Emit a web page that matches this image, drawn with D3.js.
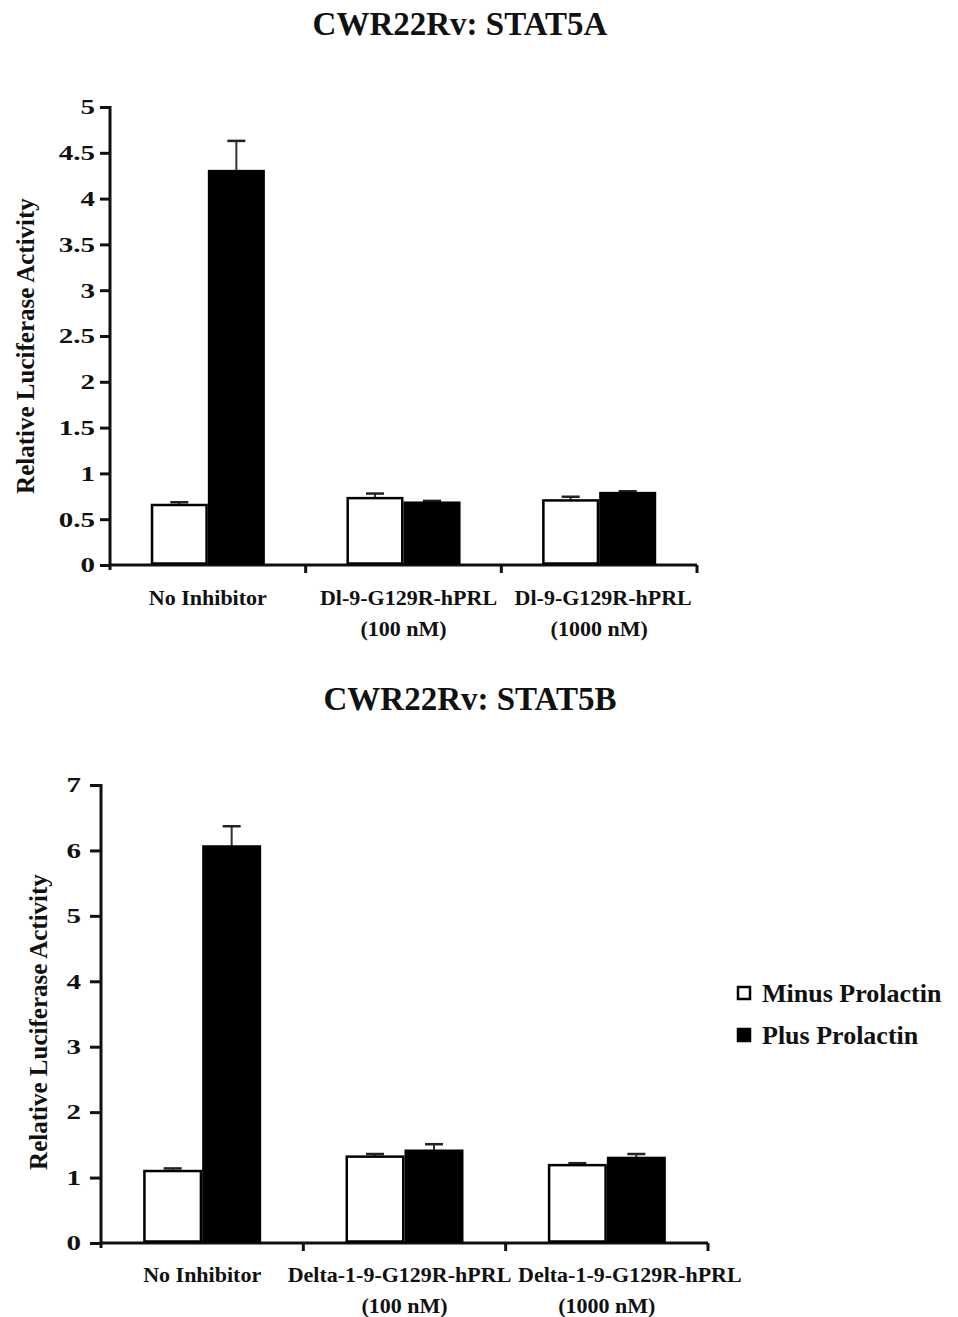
<!DOCTYPE html>
<html>
<head>
<meta charset="utf-8">
<script src="https://cdn.jsdelivr.net/npm/d3@7"></script>
<style>
  html, body { margin: 0; padding: 0; background: #fff; }
  svg { display: block; }
  text { font-family: "Liberation Serif", "Times New Roman", serif; font-weight: bold; fill: #111; }
</style>
</head>
<body>
<svg id="fig" width="958" height="1317"></svg>
<script>
// Luciferase reporter data, CWR22Rv cells
const seriesNames = ["Minus Prolactin", "Plus Prolactin"];

const stat5aCategories = [["No Inhibitor"], ["Dl-9-G129R-hPRL", "(100 nM)"], ["Dl-9-G129R-hPRL", "(1000 nM)"]];
const stat5aMinus = [0.655, 0.73, 0.705];
const stat5aMinusErr = [0.03, 0.05, 0.04];
const stat5aPlus = [4.30, 0.68, 0.785];
const stat5aPlusErr = [0.33, 0.02, 0.02];
const stat5aTicks = [0, 0.5, 1, 1.5, 2, 2.5, 3, 3.5, 4, 4.5, 5];

const stat5bCategories = [["No Inhibitor"], ["Delta-1-9-G129R-hPRL", "(100 nM)"], ["Delta-1-9-G129R-hPRL", "(1000 nM)"]];
const stat5bMinus = [1.10, 1.32, 1.19];
const stat5bMinusErr = [0.04, 0.04, 0.03];
const stat5bPlus = [6.06, 1.41, 1.30];
const stat5bPlusErr = [0.31, 0.10, 0.06];
const stat5bTicks = [0, 1, 2, 3, 4, 5, 6, 7];

const seriesFill = ["#ffffff", "#000000"];
const TICK_SX = 1.45; // tick numerals are set wide

const svg = d3.select("#fig");

function label(g, x, y, str, size, anchor, rotate, sx) {
  return g.append("text")
    .attr("transform", `translate(${x},${y})` + (rotate ? ` rotate(${rotate})` : "") + (sx ? ` scale(${sx},1)` : ""))
    .attr("text-anchor", anchor || "middle")
    .style("font-size", size + "px")
    .text(str);
}

function drawPanel(cfg) {
  const g = svg.append("g");
  const keys = cfg.categories.map((c, i) => "c" + i);
  const x = d3.scaleBand().domain(keys).range([cfg.left, cfg.right]).paddingInner(0).paddingOuter(0);
  const xs = d3.scaleBand().domain(seriesNames).range([0, x.bandwidth()]).paddingInner(0).paddingOuter(0.715);
  const y = d3.scaleLinear().domain([0, cfg.max]).range([cfg.bottom, cfg.top]);

  // title
  label(g, cfg.titleX, cfg.titleY, cfg.title, 33, "middle");

  // y axis
  const yAxis = d3.axisLeft(y)
    .tickValues(cfg.ticks)
    .tickFormat(d => String(d))
    .tickSize(cfg.tickLen)
    .tickSizeOuter(0)
    .tickPadding(cfg.tickPad);
  const ya = g.append("g").attr("transform", `translate(${cfg.left},0)`).call(yAxis);
  ya.select(".domain").attr("stroke", "#111").attr("stroke-width", 3)
    .attr("d", `M0,${cfg.top - 1}V${cfg.bottom + 5}`);
  ya.selectAll(".tick line").attr("stroke", "#111").attr("stroke-width", 3);
  ya.selectAll(".tick text").each(function () {
    const t = d3.select(this);
    const xx = +t.attr("x");
    t.attr("x", null).attr("dy", "0.34em")
      .attr("transform", `translate(${xx},0) scale(${TICK_SX},1)`)
      .style("font-size", "20px")
      .style("font-family", "'Liberation Serif', serif")
      .style("font-weight", "bold")
      .attr("fill", "#111");
  });

  // x axis line with tick marks at group boundaries
  g.append("line")
    .attr("x1", cfg.left).attr("x2", cfg.right)
    .attr("y1", cfg.bottom).attr("y2", cfg.bottom)
    .attr("stroke", "#111").attr("stroke-width", 3);
  g.selectAll("line.xtick").data(keys).join("line").attr("class", "xtick")
    .attr("x1", d => x(d) + x.bandwidth()).attr("x2", d => x(d) + x.bandwidth())
    .attr("y1", cfg.bottom).attr("y2", cfg.bottom + 8)
    .attr("stroke", "#111").attr("stroke-width", 3);

  // one row per bar
  const rows = [];
  keys.forEach((k, i) => {
    rows.push({ k, s: seriesNames[0], v: cfg.minus[i], e: cfg.minusErr[i], fill: seriesFill[0] });
    rows.push({ k, s: seriesNames[1], v: cfg.plus[i], e: cfg.plusErr[i], fill: seriesFill[1] });
  });

  // error bars (upper only), drawn beneath the bars
  const eb = g.selectAll("g.err").data(rows).join("g").attr("class", "err");
  const cxOf = d => x(d.k) + xs(d.s) + xs.bandwidth() / 2;
  eb.append("line")
    .attr("x1", cxOf).attr("x2", cxOf)
    .attr("y1", d => y(d.v)).attr("y2", d => y(d.v + d.e))
    .attr("stroke", "#333").attr("stroke-width", 2);
  eb.append("line")
    .attr("x1", d => cxOf(d) - 9).attr("x2", d => cxOf(d) + 9)
    .attr("y1", d => y(d.v + d.e)).attr("y2", d => y(d.v + d.e))
    .attr("stroke", "#222").attr("stroke-width", 2.5);

  g.selectAll("rect.bar").data(rows).join("rect").attr("class", "bar")
    .attr("x", d => x(d.k) + xs(d.s) + 1.25)
    .attr("width", xs.bandwidth() - 2.5)
    .attr("y", d => y(d.v))
    .attr("height", d => y(0) - y(d.v) - 1.5)
    .attr("fill", d => d.fill)
    .attr("stroke", "#000").attr("stroke-width", 2.5);

  // category labels; long first lines are nudged sideways so neighbours do not collide
  cfg.categories.forEach((lines, i) => {
    const cx = x(keys[i]) + x.bandwidth() / 2;
    lines.forEach((ln, j) => {
      const dx = j === 0 ? cfg.labelNudge[i] : 0;
      label(g, cx + dx, cfg.catY + j * 31, ln, 22, "middle");
    });
  });

  // y axis title
  label(g, cfg.yTitleX, cfg.yTitleY, "Relative Luciferase Activity", 25, "middle", -90);
  return g;
}

drawPanel({
  title: "CWR22Rv: STAT5A", titleX: 460, titleY: 35,
  categories: stat5aCategories, minus: stat5aMinus, minusErr: stat5aMinusErr,
  plus: stat5aPlus, plusErr: stat5aPlusErr, ticks: stat5aTicks, max: 5,
  left: 110, right: 697, top: 107, bottom: 565,
  tickLen: 10, tickPad: 5, catY: 605, yTitleX: 34, yTitleY: 346,
  labelNudge: [0, 5, 4]
});

drawPanel({
  title: "CWR22Rv: STAT5B", titleX: 470, titleY: 710,
  categories: stat5bCategories, minus: stat5bMinus, minusErr: stat5bMinusErr,
  plus: stat5bPlus, plusErr: stat5bPlusErr, ticks: stat5bTicks, max: 7,
  left: 101, right: 708, top: 785, bottom: 1243,
  tickLen: 11, tickPad: 9, catY: 1282, yTitleX: 47, yTitleY: 1022,
  labelNudge: [0, -5, 23]
});

// legend
const legend = svg.append("g");
seriesNames.forEach((name, i) => {
  const yy = 993 + i * 42;
  legend.append("rect")
    .attr("x", 738).attr("y", yy - 6).attr("width", 12).attr("height", 12)
    .attr("fill", seriesFill[i]).attr("stroke", "#000").attr("stroke-width", 2.5);
  label(legend, 762, yy + 9, name, 26, "start");
});
</script>
</body>
</html>
